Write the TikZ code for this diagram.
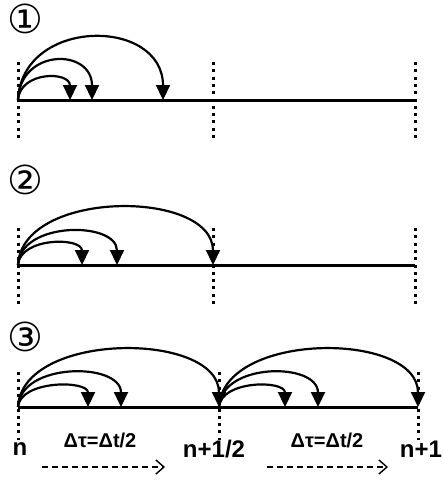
\documentclass[tikz,border=0pt]{standalone}
\usepackage{fontspec}
\setmainfont{Liberation Sans}
\newfontfamily\symfont{DejaVu Sans}
\usetikzlibrary{arrows.meta,positioning}

\begin{document}
\begin{tikzpicture}[
  x=1pt, y=-1pt,
  axis/.style={line width=3pt},
  grid line/.style={line width=3pt, dash pattern=on 3pt off 4.3pt},
  hop/.style={line width=2.2pt, -{Triangle[length=15pt,width=14pt]}},
  step label/.style={font=\symfont\fontsize{40}{40}\selectfont, inner sep=0pt},
  time label/.style={font=\bfseries\fontsize{24}{24}\selectfont, inner sep=0pt},
  dt label/.style={font=\bfseries\fontsize{20}{20}\selectfont, inner sep=0pt},
  shift arrow/.style={line width=1.4pt, dash pattern=on 6pt off 4pt, -{Straight Barb[length=8pt,width=14pt]}}
]
  \useasboundingbox (0,0) rectangle (443,482);

  % panel 1
  \node[step label] (p1) at (25,19) {①};
  \coordinate (a0) at (18,100);
  \coordinate (a1) at (70,100);
  \coordinate (a2) at (92,100);
  \coordinate (a3) at (163,100);
  \coordinate (ae) at (415,100);
  \draw[axis] (a0) -- (ae);
  \draw[grid line] (18,62) -- (18,140);
  \draw[grid line] (213,62) -- (213,140);
  \draw[grid line] (415,62) -- (415,140);
  \draw[hop] (a0) .. controls (20,71) and (70,71) .. (a1);
  \draw[hop] (a0) .. controls (20,48) and (92,48) .. (a2);
  \draw[hop] (a0) .. controls (22,17) and (163,17) .. (a3);

  % panel 2
  \node[step label] (p2) at (25,180) {②};
  \coordinate (b0) at (18,265);
  \coordinate (b1) at (82,265);
  \coordinate (b2) at (117,265);
  \coordinate (b3) at (213,265);
  \coordinate (be) at (415,265);
  \draw[axis] (b0) -- (be);
  \draw[grid line] (18,228) -- (18,305);
  \draw[grid line] (213,228) -- (213,305);
  \draw[grid line] (415,228) -- (415,305);
  \draw[hop] (b0) .. controls (20,237) and (82,237) .. (b1);
  \draw[hop] (b0) .. controls (20,221) and (117,221) .. (b2);
  \draw[hop] (b0) .. controls (22,189) and (213,189) .. (b3);

  % panel 3
  \node[step label] (p3) at (25,337) {③};
  \coordinate (c0) at (18,407);
  \coordinate (c1) at (88,407);
  \coordinate (c2) at (121,407);
  \coordinate (c3) at (219,407);
  \coordinate (c4) at (285,407);
  \coordinate (c5) at (318,407);
  \coordinate (c6) at (418,407);
  \draw[axis] (c0) -- (c6);
  \draw[grid line] (18,372) -- (18,440);
  \draw[grid line] (219,372) -- (219,440);
  \draw[grid line] (418,372) -- (418,440);
  \draw[hop] (c0) .. controls (20,380) and (88,380) .. (c1);
  \draw[hop] (c0) .. controls (20,362) and (121,362) .. (c2);
  \draw[hop] (c0) .. controls (22,331) and (219,331) .. (c3);
  \draw[hop] (c3) .. controls (221,380) and (285,380) .. (c4);
  \draw[hop] (c3) .. controls (221,362) and (318,362) .. (c5);
  \draw[hop] (c3) .. controls (223,331) and (418,331) .. (c6);

  \node[time label] (tn) at (20,449) {n};
  \node[time label] (th) at (214,449) {n+1/2};
  \node[time label] (t1) at (421,449) {n+1};
  \node[dt label] (d1) at (100,440) {Δτ=Δt/2};
  \node[dt label] (d2) at (327,440) {Δτ=Δt/2};
  \coordinate (s1) at (42,467);
  \coordinate (e1) at (165,467);
  \coordinate (s2) at (267,467);
  \coordinate (e2) at (388,467);
  \draw[shift arrow] (s1) -- (e1);
  \draw[shift arrow] (s2) -- (e2);
\end{tikzpicture}
\end{document}
